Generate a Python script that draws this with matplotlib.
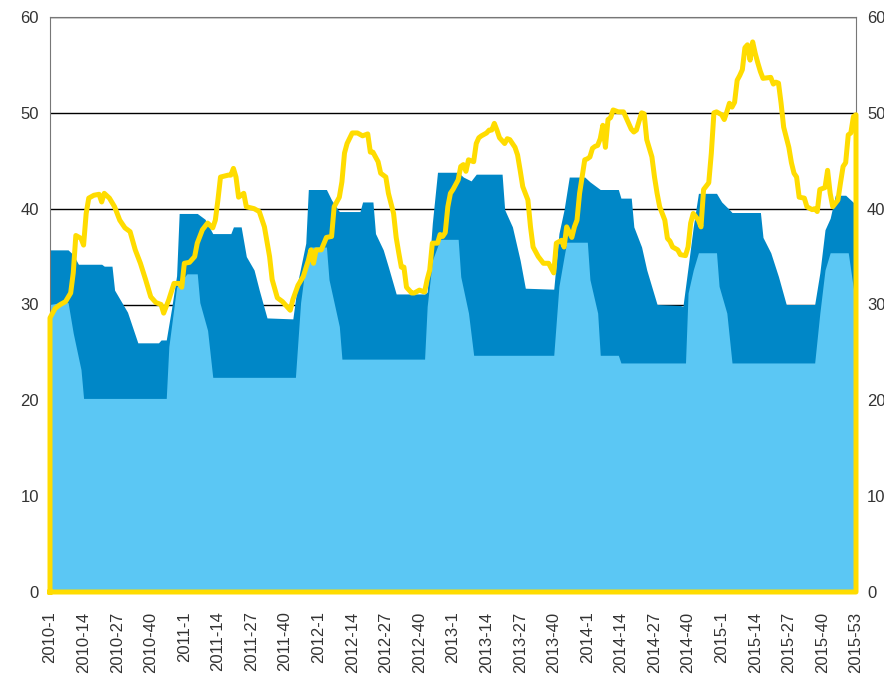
import matplotlib
matplotlib.use("Agg")
import matplotlib.pyplot as plt
import numpy as np

# weekly axis 2010-1 .. 2015-53
years = [2010, 2011, 2012, 2013, 2014, 2015]
weeks_in_year = [52, 52, 52, 52, 52, 53]

# dark blue band (upper), breakpoints: week index, value
dark_week = [0, 7, 9, 11, 20, 21, 24, 25, 30, 34, 42, 43, 45, 47, 49, 50, 57, 60, 63, 70,
             71, 74, 76, 79, 81, 84, 94, 96, 99, 100, 107, 109, 112, 120, 121, 125, 126, 129,
             131, 134, 145, 146, 148, 150, 158, 160, 163, 165, 175, 176, 179, 182, 184, 195,
             197, 199, 201, 207, 209, 213, 220, 221, 225, 226, 229, 231, 235, 244, 245, 247,
             249, 251, 258, 260, 263, 264, 275, 276, 279, 282, 285, 296, 298, 300, 302, 304,
             308, 312]
dark_val = [35.7, 35.7, 35.2, 34.2, 34.2, 34.0, 34.0, 31.5, 29.2, 26.0, 26.0, 26.3, 26.3, 29.5,
            33.0, 39.5, 39.5, 38.9, 37.4, 37.4, 38.1, 38.1, 35.0, 33.6, 31.5, 28.6, 28.5, 32.5,
            36.4, 42.0, 42.0, 40.9, 39.7, 39.7, 40.7, 40.7, 37.4, 35.7, 33.9, 31.1, 31.1, 31.3,
            38.5, 43.8, 43.8, 43.3, 42.9, 43.6, 43.6, 39.9, 38.1, 34.6, 31.7, 31.6, 37.4, 39.9,
            43.3, 43.3, 42.8, 42.0, 42.0, 41.1, 41.1, 38.1, 36.0, 33.6, 30.0, 29.9, 29.8, 33.9,
            38.1, 41.6, 41.6, 40.7, 39.9, 39.6, 39.6, 37.0, 35.4, 32.9, 30.0, 30.0, 33.3, 37.8,
            39.0, 41.4, 41.4, 40.4]

# light blue band (lower)
light_week = [0, 4, 7, 9, 12, 13, 45, 46, 49, 53, 57, 58, 61, 63, 95, 97, 99, 101, 107, 108,
              112, 113, 145, 146, 148, 151, 158, 159, 162, 164, 195, 197, 199, 200, 208, 209,
              212, 213, 220, 221, 246, 247, 249, 251, 258, 259, 262, 264, 296, 298, 300, 302,
              309, 312]
light_val = [30.0, 30.2, 30.2, 27.0, 23.2, 20.2, 20.2, 25.6, 31.8, 33.2, 33.2, 30.2, 27.3, 22.4,
             22.4, 30.2, 34.3, 36.0, 36.0, 32.6, 27.7, 24.3, 24.3, 29.8, 34.6, 36.8, 36.8, 32.9,
             29.1, 24.7, 24.7, 31.9, 35.0, 36.5, 36.5, 32.6, 29.1, 24.7, 24.7, 23.9, 23.9, 31.2,
             33.6, 35.4, 35.4, 31.9, 29.1, 23.9, 23.9, 29.1, 33.6, 35.4, 35.4, 29.8]

# yellow line
line_week = [0, 2, 4, 6, 8, 9, 10, 12, 13, 14, 15, 17, 19, 20, 21, 23, 25, 27, 29, 31, 33, 35,
             37, 39, 41, 43, 44, 46, 48, 50, 51, 52, 54, 56, 57, 59, 61, 63, 64, 65, 66, 69, 70,
             71, 72, 73, 75, 76, 79, 81, 83, 85, 86, 88, 90, 92, 93, 94, 96, 98, 100, 101, 102,
             103, 105, 107, 109, 110, 112, 113, 114, 115, 117, 119, 121, 123, 124, 125, 127,
             128, 130, 131, 133, 134, 135, 136, 137, 138, 140, 141, 143, 145, 146, 147, 148,
             150, 151, 152, 153, 154, 155, 156, 158, 159, 160, 161, 162, 164, 165, 166, 167,
             169, 170, 171, 172, 173, 174, 176, 177, 178, 180, 181, 182, 183, 185, 186, 187,
             189, 191, 193, 194, 195, 196, 198, 199, 200, 202, 203, 204, 205, 207, 208, 209,
             210, 211, 212, 213, 214, 215, 216, 217, 218, 220, 222, 224, 225, 226, 227, 229,
             230, 231, 233, 234, 235, 236, 238, 239, 240, 241, 243, 244, 246, 247, 248, 249,
             251, 252, 253, 255, 256, 257, 258, 260, 261, 262, 263, 264, 265, 266, 267, 268,
             269, 270, 271, 272, 273, 274, 275, 276, 279, 280, 281, 282, 283, 284, 286, 287,
             288, 289, 290, 292, 293, 295, 296, 297, 298, 300, 301, 302, 303, 305, 306, 307,
             308, 309, 310, 311, 312]
line_val = [28.6, 29.6, 30.0, 30.3, 31.2, 33.3, 37.2, 36.9, 36.2, 39.5, 41.1, 41.4, 41.5, 40.7,
            41.6, 41.1, 40.2, 38.8, 38.0, 37.6, 35.7, 34.3, 32.6, 30.8, 30.2, 30.0, 29.1, 30.5,
            32.2, 32.2, 31.8, 34.3, 34.4, 35.0, 36.4, 37.8, 38.5, 38.0, 38.8, 40.9, 43.3, 43.5,
            43.5, 44.2, 43.3, 41.2, 41.6, 40.2, 40.0, 39.7, 38.1, 35.0, 32.6, 30.7, 30.3, 29.7,
            29.4, 30.5, 32.0, 32.9, 34.6, 35.7, 34.3, 35.7, 35.7, 37.0, 37.1, 40.2, 41.2, 42.8,
            45.8, 46.8, 47.9, 47.9, 47.6, 47.8, 45.9, 45.9, 44.9, 43.7, 43.3, 41.6, 39.5, 37.0,
            35.4, 33.9, 33.9, 31.8, 31.2, 31.2, 31.5, 31.3, 32.6, 33.6, 36.4, 36.4, 37.3, 37.1,
            37.5, 40.2, 41.6, 42.0, 43.0, 44.4, 44.6, 43.9, 45.1, 44.9, 46.8, 47.4, 47.6, 47.9,
            48.2, 48.2, 48.9, 48.2, 47.4, 46.8, 47.3, 47.2, 46.4, 45.6, 44.0, 42.3, 40.9, 38.1,
            36.0, 35.0, 34.3, 34.3, 33.8, 33.3, 36.4, 36.7, 36.0, 38.1, 37.0, 38.1, 38.8, 41.6,
            45.1, 45.2, 45.4, 46.3, 46.5, 46.6, 47.3, 48.7, 46.4, 49.3, 49.5, 50.3, 50.1, 50.1,
            48.9, 48.3, 48.0, 48.2, 50.0, 49.9, 47.2, 45.4, 43.3, 41.6, 40.2, 38.8, 36.9, 36.6,
            36.0, 35.7, 35.2, 35.1, 36.0, 38.5, 39.5, 38.8, 38.1, 42.0, 42.7, 45.8, 50.0, 50.1,
            49.8, 49.3, 50.1, 51.0, 50.6, 51.1, 53.4, 53.9, 54.5, 56.8, 57.1, 55.5, 57.4, 56.2,
            55.2, 54.3, 53.6, 53.7, 53.0, 53.2, 53.1, 51.0, 48.5, 46.4, 44.8, 43.7, 43.3, 41.2,
            41.1, 40.2, 39.9, 40.0, 39.7, 42.0, 42.2, 44.0, 41.6, 40.2, 40.9, 42.7, 44.4, 44.8,
            47.7, 47.9, 49.6, 49.8]

labels = []
for y, n in zip(years, weeks_in_year):
    labels += ["{}-{}".format(y, w) for w in range(1, n + 1)]

plt.rcParams["font.family"] = ["Liberation Sans", "DejaVu Sans"]

fig = plt.figure(figsize=(8.84, 6.79), dpi=100)
ax = fig.add_axes([50 / 884, 87 / 679, 806 / 884, 575 / 679])

ax.fill_between(dark_week, 0, dark_val, color="#0087c7", lw=0)
ax.fill_between(light_week, 0, light_val, color="#5bc7f4", lw=0)

# yellow series is drawn as a closed outline (drops to 0 at both ends)
n = len(labels) - 1
xs = [0] + line_week + [n, 0]
ys = [0] + line_val + [0, 0]
ax.plot(xs, ys, color="#ffdc00", lw=3.6, solid_joinstyle="round", clip_on=False, zorder=5)

ax.set_xlim(0, n)
ax.set_ylim(0, 60)
ax.set_yticks(range(0, 61, 10))
ax.yaxis.grid(True, color="black", lw=1)
ax.set_axisbelow(True)

tick_idx = list(range(0, n + 1, 13))
ax.set_xticks(tick_idx)
ax.set_xticklabels([labels[i] for i in tick_idx], rotation=90)

ax.tick_params(axis="y", length=0, pad=8, labelsize=12, labelcolor="#333333",
               labelright=True)
ax.tick_params(axis="x", length=0, pad=14, labelsize=12, labelcolor="#333333")

for s in ["left", "right", "top"]:
    ax.spines[s].set_color("#777777")
ax.spines["bottom"].set_color("#444444")
ax.spines["bottom"].set_linewidth(1.5)

fig.savefig("out.png", dpi=100)
